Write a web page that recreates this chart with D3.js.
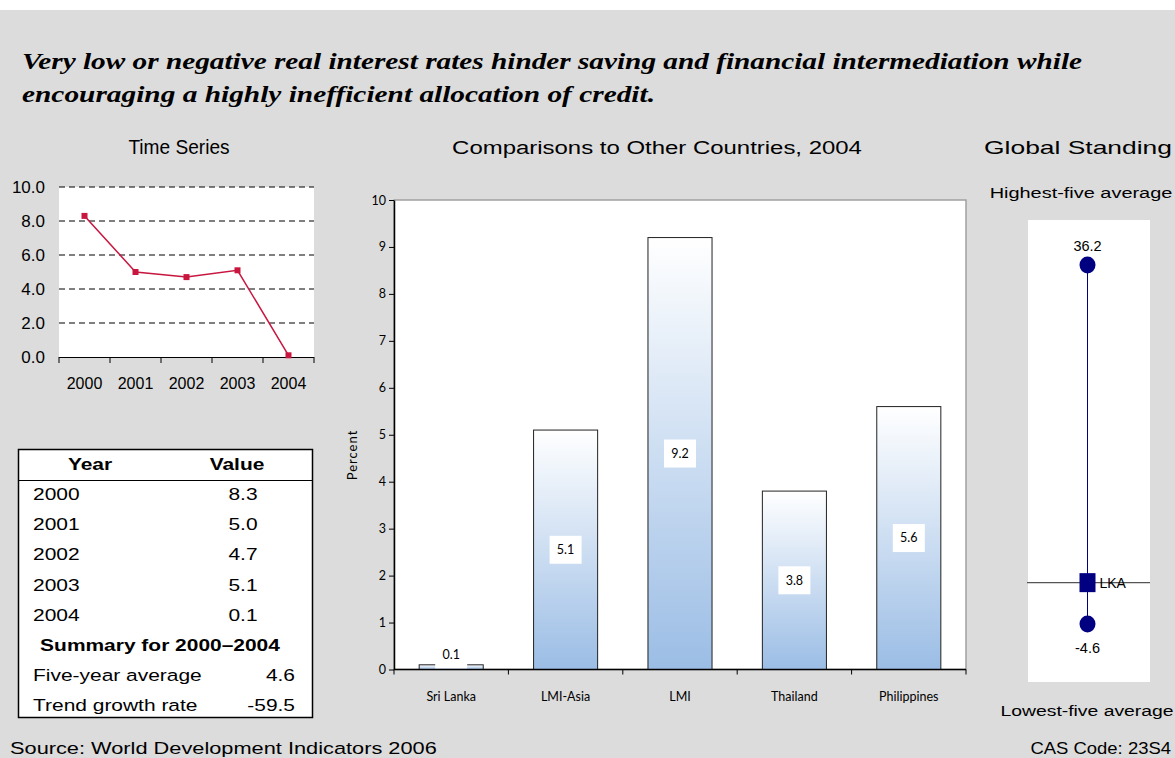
<!DOCTYPE html>
<html>
<head>
<meta charset="utf-8">
<script src="https://cdn.jsdelivr.net/npm/d3@7"></script>
<style>
  html, body { margin: 0; padding: 0; background: #ffffff; }
  svg { display: block; }
</style>
</head>
<body>
<svg id="chart" width="1175" height="758"></svg>
<script>
// Real interest rate, Sri Lanka
const years = ["2000", "2001", "2002", "2003", "2004"];
const rateValues = [8.3, 5.0, 4.7, 5.1, 0.1];
const rateTicks = [0, 2, 4, 6, 8, 10];

const summaryLabels = ["Five-year average", "Trend growth rate"];
const summaryValues = ["4.6", "-59.5"];

// Comparisons, 2004
const countries = ["Sri Lanka", "LMI-Asia", "LMI", "Thailand", "Philippines"];
const countryValues = [0.1, 5.1, 9.2, 3.8, 5.6];
const barTicks = [0, 1, 2, 3, 4, 5, 6, 7, 8, 9, 10];

// Global standing
const highestFive = 36.2;
const lowestFive = -4.6;
const countryValue = 0.1;
const countryCode = "LKA";

const svg = d3.select("#chart");
const sans = "Arial, 'Liberation Sans', sans-serif";
const gill = "Lato, 'DejaVu Sans', sans-serif";

// text drawn with a horizontal stretch factor (wide face)
function wideText(parent, x, y, str, size, sx, anchor, weight) {
  return parent.append("text")
    .attr("transform", `translate(${x},${y}) scale(${sx},1)`)
    .attr("text-anchor", anchor || "start")
    .attr("font-family", sans).attr("font-size", size)
    .attr("font-weight", weight || "normal").attr("fill", "#000")
    .text(str);
}

// backdrop
svg.append("rect").attr("x", 0).attr("y", 0).attr("width", 1175).attr("height", 758).attr("fill", "#ffffff");
svg.append("rect").attr("x", 0).attr("y", 10).attr("width", 1175).attr("height", 748).attr("fill", "#dcdcdc");

// headline
const headLines = [
  { t: "Very low or negative real interest rates hinder saving and financial intermediation while", y: 69, w: 1060 },
  { t: "encouraging a highly inefficient allocation of credit.", y: 102, w: 633 }
];
svg.selectAll(".head").data(headLines).join("text")
  .attr("x", 22).attr("y", d => d.y)
  .attr("textLength", d => d.w).attr("lengthAdjust", "spacingAndGlyphs")
  .attr("font-family", "'Liberation Serif', 'Times New Roman', serif")
  .attr("font-weight", "bold").attr("font-style", "italic")
  .attr("font-size", 24).attr("fill", "#000")
  .text(d => d.t);

// section titles
wideText(svg, 179, 154, "Time Series", 19.5, 0.98, "middle");
wideText(svg, 657, 154, "Comparisons to Other Countries, 2004", 19, 1.26, "middle");
wideText(svg, 1078, 154, "Global Standing", 19, 1.39, "middle");

// ---------- time series ----------
const ts = { left: 59, right: 314, top: 187, bottom: 357 };
const tx = d3.scaleBand().domain(years).range([ts.left, ts.right]);
const ty = d3.scaleLinear().domain([0, 10]).range([ts.bottom, ts.top]);
const tsG = svg.append("g");
tsG.append("rect").attr("x", ts.left).attr("y", ts.top)
  .attr("width", ts.right - ts.left).attr("height", ts.bottom - ts.top).attr("fill", "#ffffff");
tsG.selectAll(".grid").data(rateTicks.filter(d => d > 0)).join("line")
  .attr("x1", ts.left).attr("x2", ts.right)
  .attr("y1", d => ty(d)).attr("y2", d => ty(d))
  .attr("stroke", "#000").attr("stroke-width", 1).attr("stroke-dasharray", "6,4");
tsG.selectAll(".ytl").data(rateTicks).join("text")
  .attr("x", 45).attr("y", d => ty(d)).attr("dy", "0.36em")
  .attr("text-anchor", "end").attr("font-family", sans).attr("font-size", 17)
  .text(d => d.toFixed(1));
tsG.append("line").attr("x1", ts.left).attr("x2", ts.right)
  .attr("y1", ts.bottom + 0.5).attr("y2", ts.bottom + 0.5).attr("stroke", "#000");
const tsEdges = years.map(y => tx(y)).concat([ts.right]);
tsG.selectAll(".xt").data(tsEdges).join("line")
  .attr("x1", d => d).attr("x2", d => d)
  .attr("y1", ts.bottom).attr("y2", ts.bottom + 6).attr("stroke", "#000");
tsG.selectAll(".xtl").data(years).join("text")
  .attr("x", d => tx(d) + tx.bandwidth() / 2).attr("y", 389)
  .attr("text-anchor", "middle").attr("font-family", sans).attr("font-size", 16)
  .text(d => d);
const tsLine = d3.line().x((d, i) => tx(years[i]) + tx.bandwidth() / 2).y(d => ty(d));
tsG.append("path").datum(rateValues).attr("d", tsLine)
  .attr("fill", "none").attr("stroke", "#c8163f").attr("stroke-width", 1.5);
tsG.selectAll(".pt").data(rateValues).join("rect")
  .attr("x", (d, i) => tx(years[i]) + tx.bandwidth() / 2 - 3)
  .attr("y", d => ty(d) - 3).attr("width", 6).attr("height", 6)
  .attr("fill", "#c8163f");

// ---------- table ----------
const tb = svg.append("g");
const tsx = 1.27;
tb.append("rect").attr("x", 18.5).attr("y", 449.5).attr("width", 294).attr("height", 268)
  .attr("fill", "#ffffff").attr("stroke", "#000").attr("stroke-width", 1.5);
tb.append("line").attr("x1", 18).attr("x2", 313).attr("y1", 480.5).attr("y2", 480.5)
  .attr("stroke", "#000").attr("stroke-width", 1.2);
wideText(tb, 90, 470, "Year", 16.5, tsx, "middle", "bold");
wideText(tb, 237, 470, "Value", 16.5, tsx, "middle", "bold");
const rowY = i => 500 + i * 30.2;
years.forEach((y, i) => wideText(tb, 33, rowY(i), y, 16.5, tsx, "start"));
rateValues.forEach((v, i) => wideText(tb, 243, rowY(i), v.toFixed(1), 16.5, tsx, "middle"));
wideText(tb, 160, rowY(5), "Summary for 2000\u20132004", 16.5, tsx, "middle", "bold");
summaryLabels.forEach((s, i) => wideText(tb, 33, rowY(6 + i), s, 16.5, tsx, "start"));
summaryValues.forEach((s, i) => wideText(tb, 295, rowY(6 + i), s, 16.5, tsx, "end"));

// ---------- bar chart ----------
const bc = { left: 394, right: 966, top: 200, bottom: 669.5 };
const bx = d3.scaleBand().domain(countries).range([bc.left, bc.right]).paddingInner(0.44).paddingOuter(0.22);
const by = d3.scaleLinear().domain([0, 10]).range([bc.bottom, bc.top]);
const defs = svg.append("defs");
const grad = defs.append("linearGradient").attr("id", "barFill")
  .attr("x1", 0).attr("y1", 0).attr("x2", 0).attr("y2", 1);
grad.append("stop").attr("offset", "0%").attr("stop-color", "#ffffff");
grad.append("stop").attr("offset", "100%").attr("stop-color", "#9bbde5");
const bcG = svg.append("g");
bcG.append("rect").attr("x", bc.left).attr("y", bc.top)
  .attr("width", bc.right - bc.left).attr("height", bc.bottom - bc.top)
  .attr("fill", "#ffffff").attr("stroke", "#a0a0a0").attr("stroke-width", 1.5);
bcG.selectAll(".bar").data(countryValues).join("rect")
  .attr("x", (d, i) => bx(countries[i]))
  .attr("y", d => by(d))
  .attr("width", bx.bandwidth())
  .attr("height", d => bc.bottom - by(d))
  .attr("fill", "url(#barFill)").attr("stroke", "#222").attr("stroke-width", 1);
// value labels on white boxes
const labY = d => Math.min(by(d / 2), bc.bottom - 15);
bcG.selectAll(".lb").data(countryValues).join("rect")
  .attr("x", (d, i) => bx(countries[i]) + bx.bandwidth() / 2 - 16)
  .attr("y", d => labY(d) - 14).attr("width", 32).attr("height", 28)
  .attr("fill", "#ffffff");
bcG.selectAll(".lt").data(countryValues).join("text")
  .attr("x", (d, i) => bx(countries[i]) + bx.bandwidth() / 2)
  .attr("y", d => labY(d)).attr("dy", "0.35em").attr("text-anchor", "middle")
  .attr("font-family", gill).attr("font-size", 12.5).text(d => d.toFixed(1));
bcG.append("g").attr("transform", `translate(${bc.left},0)`)
  .call(d3.axisLeft(by).tickValues(barTicks).tickSize(5).tickSizeOuter(0).tickFormat(d3.format("d")))
  .call(g => g.selectAll("text").attr("font-family", gill).attr("font-size", 12.5).attr("fill", "#000"))
  .call(g => g.select(".domain").attr("stroke", "#000").attr("stroke-width", 1.5));
const bEdges = d3.range(countries.length + 1).map(i => bc.left + i * (bc.right - bc.left) / countries.length);
bcG.append("line").attr("x1", bc.left).attr("x2", bc.right)
  .attr("y1", bc.bottom).attr("y2", bc.bottom).attr("stroke", "#000").attr("stroke-width", 1.5);
bcG.selectAll(".bt").data(bEdges).join("line")
  .attr("x1", d => d).attr("x2", d => d).attr("y1", bc.bottom).attr("y2", bc.bottom + 5)
  .attr("stroke", "#000");
bcG.selectAll(".bl").data(countries).join("text")
  .attr("x", d => bx(d) + bx.bandwidth() / 2).attr("y", 701).attr("text-anchor", "middle")
  .attr("font-family", gill).attr("font-size", 12.5).text(d => d);
bcG.append("text").attr("transform", "translate(357,455) rotate(-90)")
  .attr("text-anchor", "middle").attr("font-family", gill).attr("font-size", 13)
  .attr("letter-spacing", 1).text("Percent");

// ---------- global standing ----------
const gs = svg.append("g");
const gy = d3.scaleLinear().domain([lowestFive, highestFive]).range([624, 265]);
const gx = 1087.5;
wideText(gs, 1081, 198, "Highest-five average", 15, 1.33, "middle");
gs.append("rect").attr("x", 1028).attr("y", 220).attr("width", 122).attr("height", 462).attr("fill", "#ffffff");
gs.append("line").attr("x1", gx).attr("x2", gx).attr("y1", gy(highestFive)).attr("y2", gy(lowestFive))
  .attr("stroke", "#000080").attr("stroke-width", 1);
gs.append("line").attr("x1", 1027).attr("x2", 1150).attr("y1", gy(countryValue)).attr("y2", gy(countryValue))
  .attr("stroke", "#555").attr("stroke-width", 1.2);
gs.selectAll(".dot").data([highestFive, lowestFive]).join("ellipse")
  .attr("cx", gx).attr("cy", d => gy(d)).attr("rx", 8).attr("ry", 8.5).attr("fill", "#000080");
gs.append("rect").attr("x", gx - 8).attr("y", gy(countryValue) - 9.5).attr("width", 16).attr("height", 19)
  .attr("fill", "#000080");
gs.append("text").attr("x", gx + 12).attr("y", gy(countryValue)).attr("dy", "0.36em")
  .attr("font-family", sans).attr("font-size", 14).text(countryCode);
gs.append("text").attr("x", gx).attr("y", gy(highestFive) - 14).attr("text-anchor", "middle")
  .attr("font-family", sans).attr("font-size", 14.5).text(highestFive.toFixed(1));
gs.append("text").attr("x", gx).attr("y", gy(lowestFive) + 29).attr("text-anchor", "middle")
  .attr("font-family", sans).attr("font-size", 14.5).text(lowestFive.toFixed(1));
wideText(gs, 1087, 716, "Lowest-five average", 15, 1.29, "middle");

// footer
wideText(svg, 10, 754, "Source: World Development Indicators 2006", 16.5, 1.32, "start");
wideText(svg, 1171, 754, "CAS Code: 23S4", 16.5, 1.12, "end");
</script>
</body>
</html>
